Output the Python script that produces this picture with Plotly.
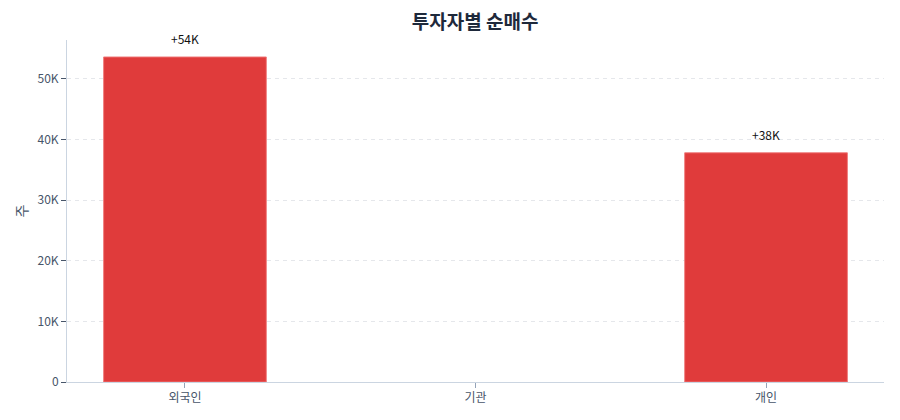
import plotly.graph_objects as go

# 투자자별 순매수 (주)
investors = ['외국인', '기관', '개인']
net_buy = [53600, 0, 37800]

labels = [f'+{v/1000:.0f}K' if v > 0 else ('' if v == 0 else f'{v/1000:.0f}K') for v in net_buy]

fig = go.Figure()
fig.add_trace(go.Bar(
    x=investors,
    y=net_buy,
    width=0.56,
    marker=dict(color='#e03b3b',
                line=dict(color='rgba(240,120,120,0.9)',
                          width=[1 if v != 0 else 0 for v in net_buy])),
    hoverinfo='x+y',
))

for name, v, lab in zip(investors, net_buy, labels):
    if lab:
        fig.add_annotation(x=name, y=v, text=lab, showarrow=False,
                           yanchor='bottom', yshift=8,
                           font=dict(size=12, color='#111111'))

fig.update_layout(
    width=900, height=420,
    title=dict(text='<b>투자자별 순매수</b>', x=0.528, xanchor='center',
               y=1 - 22 / 420, yanchor='middle',
               font=dict(size=19, color='#1e293b')),
    font=dict(family='Noto Sans CJK KR, Noto Sans, sans-serif', size=12, color='#475569'),
    plot_bgcolor='white', paper_bgcolor='white',
    margin=dict(l=67, r=16, t=40, b=38),
    showlegend=False,
)
fig.update_xaxes(
    range=[-0.406, 2.406],
    automargin=False,
    showline=True, linecolor='#cbd5e1', linewidth=1,
    ticks='outside', tickcolor='#94a3b8', ticklen=5,
    showgrid=False,
)
fig.update_yaxes(
    range=[0, 56400],
    automargin=False,
    title=dict(text='주', standoff=6),
    tickvals=[0, 10000, 20000, 30000, 40000, 50000],
    ticktext=['0', '10K', '20K', '30K', '40K', '50K'],
    showline=True, linecolor='#cbd5e1', linewidth=1,
    ticks='outside', tickcolor='#475569', ticklen=5,
    showgrid=True, gridcolor='#e5e7eb', griddash='4px,4px', gridwidth=1,
    zeroline=False,
)

# page body margin off so the figure sits at the window corner
fig.write_html('out.html', config={'displayModeBar': False},
               post_script="document.body.style.margin='0';")
